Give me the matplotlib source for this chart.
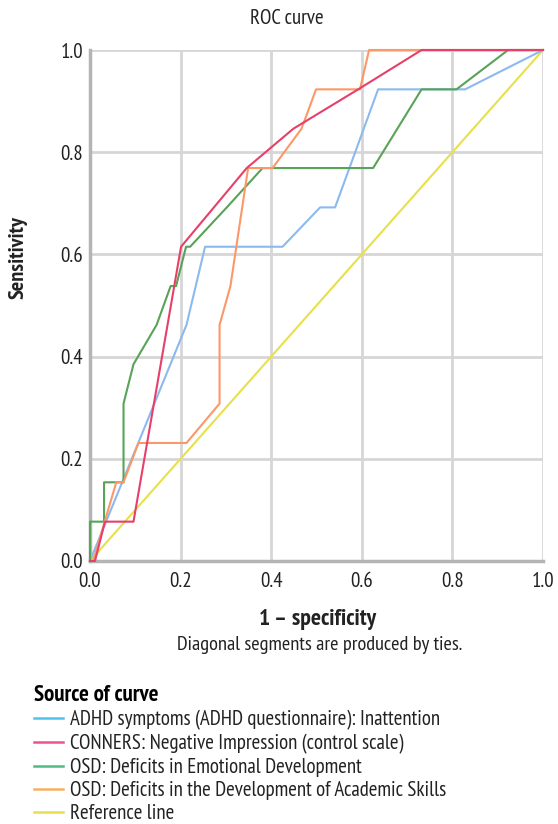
import matplotlib
matplotlib.use("Agg")
import matplotlib.pyplot as plt
from matplotlib.lines import Line2D

plt.rcParams['font.family'] = ['PT Sans Narrow', 'DejaVu Sans']

# --- ROC data (1 - specificity, sensitivity) ---
adhd_x = [0.0, 0.213, 0.254, 0.425, 0.508, 0.541, 0.636, 0.828, 1.0]
adhd_y = [0.0, 0.462, 0.615, 0.615, 0.692, 0.692, 0.923, 0.923, 1.0]

conners_x = [0.0, 0.011, 0.033, 0.096, 0.201, 0.346, 0.449, 0.592, 0.732, 1.0]
conners_y = [0.0, 0.0, 0.077, 0.077, 0.615, 0.769, 0.846, 0.923, 1.0, 1.0]

emo_x = [0.0, 0.0, 0.031, 0.031, 0.074, 0.074, 0.096, 0.147, 0.178, 0.190,
         0.212, 0.221, 0.302, 0.381, 0.625, 0.732, 0.809, 0.923, 1.0]
emo_y = [0.0, 0.077, 0.077, 0.154, 0.154, 0.308, 0.385, 0.462, 0.538, 0.538,
         0.615, 0.615, 0.692, 0.769, 0.769, 0.923, 0.923, 1.0, 1.0]

acad_x = [0.0, 0.007, 0.058, 0.074, 0.107, 0.213, 0.286, 0.286, 0.31, 0.349,
          0.403, 0.467, 0.499, 0.596, 0.616, 1.0]
acad_y = [0.0, 0.0, 0.154, 0.154, 0.231, 0.231, 0.308, 0.462, 0.538, 0.769,
          0.769, 0.846, 0.923, 0.923, 1.0, 1.0]

ref_x = [0.0, 1.0]
ref_y = [0.0, 1.0]

LABELS = ["ADHD symptoms (ADHD questionnaire): Inattention",
          "CONNERS: Negative Impression (control scale)",
          "OSD: Deficits in Emotional Development",
          "OSD: Deficits in the Development of Academic Skills",
          "Reference line"]
LINE_COLORS = ["#8cb9ef", "#e6406a", "#58a358", "#fc9868", "#e8e04a"]
LEGEND_COLORS = ["#4ec3f0", "#f0509a", "#4cbb84", "#f5b060", "#e8e04a"]

fig = plt.figure(figsize=(5.58, 8.24), dpi=100)
ax = fig.add_axes([90 / 558, 1 - 561 / 824, 453 / 558, 511 / 824])

series = [(adhd_x, adhd_y), (conners_x, conners_y), (emo_x, emo_y),
          (acad_x, acad_y), (ref_x, ref_y)]
# reference first so the curves sit on top
order = [4, 0, 2, 3, 1]
for i in order:
    xs, ys = series[i]
    ax.plot(xs, ys, color=LINE_COLORS[i], lw=1.5, zorder=3, clip_on=False)

ax.set_xlim(0, 1)
ax.set_ylim(0, 1)
ticks = [0.0, 0.2, 0.4, 0.6, 0.8, 1.0]
ax.set_xticks(ticks)
ax.set_yticks(ticks)
ax.set_xticklabels([f"{t:.1f}" for t in ticks])
ax.set_yticklabels([f"{t:.1f}" for t in ticks])
ax.tick_params(length=0, labelsize=15, colors="#222222")
ax.tick_params(axis='x', pad=8)
ax.tick_params(axis='y', pad=5)
ax.grid(True, color="#d6d6d6", lw=2)
ax.set_axisbelow(True)
for side in ["top", "right"]:
    ax.spines[side].set_visible(False)
for side in ["left", "bottom"]:
    ax.spines[side].set_color("#b4b4b4")
    ax.spines[side].set_linewidth(2.5)

fig.text(287 / 558, 1 - 18 / 824, "ROC curve", ha="center", va="center",
         fontsize=15, color="#222222")
fig.text(18 / 558, 1 - 258 / 824, "Sensitivity", ha="center", va="center",
         rotation=90, fontsize=16, fontweight="bold", color="#222222")
fig.text(318 / 558, 1 - 619 / 824, "1 \u2013 specificity", ha="center",
         va="center", fontsize=17, fontweight="bold", color="#222222")
fig.text(320 / 558, 1 - 645 / 824, "Diagonal segments are produced by ties.",
         ha="center", va="center", fontsize=14.7, color="#222222")

handles = [Line2D([0], [0], color=c, lw=1.8) for c in LEGEND_COLORS]
leg = fig.legend(handles, LABELS, loc="upper left",
                 bbox_to_anchor=(34 / 558, 1 - 685 / 824),
                 frameon=False, fontsize=15, title="Source of curve",
                 title_fontproperties={"weight": "bold", "size": 16.5},
                 alignment="left", handlelength=1.4, handletextpad=0.35,
                 labelspacing=0.19, borderaxespad=0, borderpad=0)
for t in leg.get_texts():
    t.set_color("#222222")

fig.savefig("out.png", dpi=100)
